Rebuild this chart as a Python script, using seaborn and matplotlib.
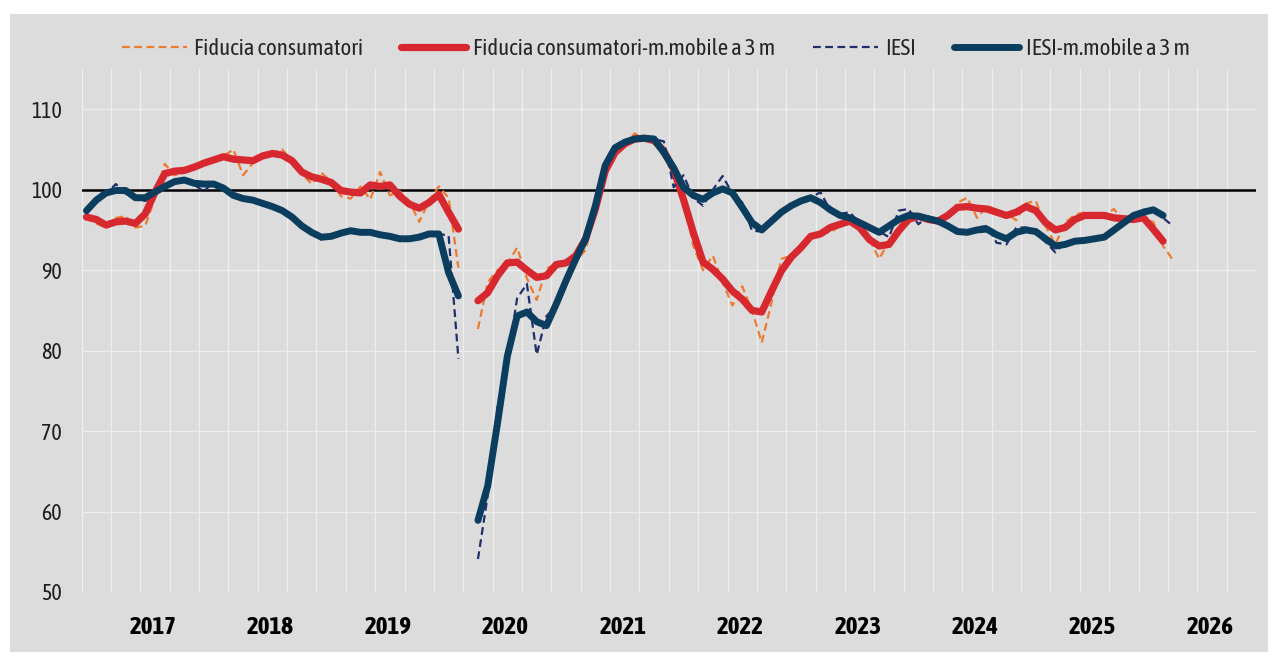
import numpy as np
import pandas as pd
import seaborn as sns
import matplotlib.pyplot as plt
from matplotlib.patches import Rectangle
from matplotlib import font_manager as fm

nan = np.nan

# monthly data, Jan 2017 .. Apr 2026 (April 2020: survey not carried out)
fiducia = [96.8, 95.8, 95.3, 96.5, 96.7, 95.3, 95.5, 99.0, 103.2, 101.8, 102.1, 102.5,
           103.5, 103.4, 104.2, 105.0, 101.8, 103.3, 104.2, 104.6, 105.0, 103.5, 102.0, 100.7,
           102.1, 101.0, 99.2, 98.9, 100.4, 98.8, 102.2, 99.3, 99.8, 98.5, 96.0, 98.6,
           100.4, 99.0, 90.3, nan, 82.7, 88.5, 90.0, 90.8, 92.8, 89.0, 86.3, 90.2,
           90.8, 90.8, 91.2, 92.5, 97.6, 102.5, 104.7, 105.5, 107.0, 106.3, 106.0, 104.5,
           103.0, 99.5, 93.0, 90.0, 91.8, 88.5, 85.6, 88.0, 85.0, 81.0, 86.0, 91.4,
           91.8, 93.0, 94.2, 94.6, 94.7, 95.5, 96.3, 95.5, 93.8, 91.4, 93.6, 95.5,
           96.5, 96.8, 96.1, 96.1, 96.5, 98.4, 99.0, 96.5, 98.0, 97.5, 97.0, 96.2,
           98.3, 98.6, 95.5, 93.2, 95.9, 96.9, 97.2, 96.6, 96.9, 97.6, 95.8, 96.3,
           96.4, 96.0, 93.0, 91.3]

fiducia_mm3 = [96.6, 96.3, 95.6, 96.0, 96.1, 95.8, 97.0, 99.7, 102.0, 102.3, 102.4, 102.8,
               103.3, 103.7, 104.1, 103.8, 103.7, 103.6, 104.2, 104.5, 104.3, 103.6, 102.2, 101.6,
               101.3, 100.9, 99.9, 99.7, 99.6, 100.6, 100.4, 100.6, 99.2, 98.2, 97.7, 98.4,
               99.4, 97.2, 95.1, nan, 86.2, 87.2, 89.3, 90.9, 91.0, 90.0, 89.1, 89.3,
               90.7, 90.9, 91.8, 93.9, 97.6, 102.3, 104.6, 105.7, 106.3, 106.4, 106.1, 104.8,
               102.5, 98.8, 94.7, 91.0, 90.1, 88.9, 87.4, 86.4, 85.0, 84.8, 87.4, 89.9,
               91.6, 92.8, 94.2, 94.5, 95.3, 95.7, 96.1, 95.3, 93.8, 93.0, 93.2, 94.9,
               96.3, 96.7, 96.3, 96.1, 96.8, 97.8, 97.9, 97.7, 97.6, 97.2, 96.8, 97.2,
               97.9, 97.4, 95.9, 95.0, 95.3, 96.3, 96.8, 96.8, 96.8, 96.5, 96.4, 96.3,
               96.5, 95.1, 93.6, nan]

iesi = [97.0, 98.5, 99.5, 100.7, 99.5, 99.0, 98.6, 99.5, 100.4, 101.0, 101.3, 100.6,
        99.8, 101.0, 100.3, 99.5, 98.9, 98.6, 98.3, 97.8, 97.3, 96.5, 95.4, 94.6,
        93.8, 94.5, 94.6, 95.0, 94.6, 94.8, 94.4, 94.0, 93.9, 93.8, 94.4, 94.7,
        94.5, 94.3, 79.0, nan, 54.1, 62.0, 73.0, 78.5, 86.5, 88.3, 79.5, 84.3,
        85.5, 88.5, 92.0, 94.5, 97.5, 103.0, 105.5, 106.0, 106.3, 106.6, 106.3, 106.0,
        100.3, 101.8, 99.0, 98.0, 100.0, 101.7, 99.5, 98.4, 94.9, 94.8, 96.0, 97.3,
        98.0, 98.8, 99.0, 99.7, 97.4, 97.0, 97.2, 95.8, 95.0, 94.8, 94.1, 97.4,
        97.6, 95.7, 96.7, 96.0, 95.6, 94.7, 94.7, 95.3, 95.5, 93.4, 93.2, 95.3,
        95.3, 94.5, 93.5, 92.2, 93.5, 93.8, 93.7, 94.0, 94.0, 95.0, 96.2, 96.8,
        97.5, 97.6, 96.5, 95.5]

iesi_mm3 = [97.4, 98.7, 99.6, 99.9, 99.9, 99.0, 99.0, 99.7, 100.4, 101.0, 101.2, 100.8,
            100.7, 100.7, 100.2, 99.3, 98.9, 98.7, 98.3, 97.9, 97.4, 96.6, 95.5, 94.7,
            94.1, 94.2, 94.6, 94.9, 94.7, 94.7, 94.4, 94.2, 93.9, 93.9, 94.1, 94.5,
            94.5, 89.7, 86.8, nan, 58.9, 63.2, 71.0, 79.3, 84.3, 84.8, 83.6, 83.1,
            85.8, 88.7, 91.4, 93.9, 98.0, 103.0, 105.2, 105.9, 106.3, 106.4, 106.3, 104.6,
            102.7, 100.3, 99.3, 98.8, 99.6, 100.1, 99.6, 97.8, 95.9, 95.0, 96.1, 97.2,
            98.0, 98.6, 99.0, 98.4, 97.5, 96.8, 96.5, 95.9, 95.3, 94.7, 95.5, 96.3,
            96.8, 96.7, 96.4, 96.1, 95.5, 94.8, 94.7, 95.0, 95.1, 94.4, 93.9, 94.7,
            95.0, 94.8, 93.9, 93.0, 93.2, 93.6, 93.7, 93.9, 94.1, 95.0, 95.9, 96.8,
            97.2, 97.5, 96.8, nan]

years = ['2017', '2018', '2019', '2020', '2021', '2022', '2023', '2024', '2025', '2026']

months = np.arange(len(fiducia))
df = pd.DataFrame({
    'mese': months,
    'tratto': np.where(months < 39, 0, 1),   # break the lines at April 2020
    'fid': fiducia,
    'fid_mm': fiducia_mm3,
    'iesi': iesi,
    'iesi_mm': iesi_mm3,
})

bg = '#DCDCDC'
grid_c = '#EEEEEE'

sns.set_theme(style='darkgrid', rc={'axes.facecolor': bg})

# the original uses a narrow face: prefer one that also has a bold cut
narrow = {}
for f in fm.fontManager.ttflist:
    if 'Narrow' in f.name or 'Condensed' in f.name:
        w = f.weight if isinstance(f.weight, int) else 400
        narrow[f.name] = max(narrow.get(f.name, 0), w)
with_bold = sorted(n for n, w in narrow.items() if w >= 600)
if with_bold:
    fam, k = with_bold[0], 1.0
elif narrow:
    fam, k = sorted(narrow)[0], 1.0
else:
    fam, k = 'Liberation Sans', 0.82
plt.rcParams['font.family'] = [fam, 'DejaVu Sans']

fs_leg = 16.4 * k
fs_y = 15.8 * k
fs_x = 18.0 * k
px_leg = fs_leg * 100 / 72

fig = plt.figure(figsize=(12.8, 6.57), dpi=100, facecolor='white')
fig.patches.append(Rectangle((10 / 1280, 5 / 657), 1258 / 1280, 638 / 657,
                             transform=fig.transFigure, facecolor=bg,
                             edgecolor='none', zorder=-10))
ax = fig.add_axes([81.6 / 1280, 65 / 657, (1256 - 81.6) / 1280, 523 / 657])

series = [
    ('fid', 'Fiducia consumatori', '#EE7A30', 1.6, (0, (3.5, 2.0))),
    ('fid_mm', 'Fiducia consumatori-m.mobile a 3 m', '#D7282F', 5.2, '-'),
    ('iesi', 'IESI', '#1F2F6B', 1.6, (0, (3.5, 2.0))),
    ('iesi_mm', 'IESI-m.mobile a 3 m', '#0A3D5E', 5.0, '-'),
]
for col, lab, c, lw, ls in series:
    sns.lineplot(data=df, x='mese', y=col, units='tratto', estimator=None,
                 color=c, lw=lw, ls=ls, label=lab, ax=ax,
                 solid_capstyle='round', dash_capstyle='butt')

if ax.get_legend() is not None:
    ax.get_legend().remove()

ax.axhline(100, color='black', lw=1.8, zorder=1.5)

ax.set_xlim(-0.5, 119.5)
ax.set_ylim(50, 115)
ax.set_yticks(range(50, 111, 10))
ax.set_xticks([6.8 + 12 * i for i in range(len(years))])
ax.set_xticklabels(years, fontweight='bold')
ax.set_xticks(np.arange(-0.5, 120, 3), minor=True)
ax.set_xlabel('')
ax.set_ylabel('')
ax.grid(False)
ax.grid(which='minor', axis='x', color=grid_c, lw=0.9)
ax.grid(which='major', axis='y', color=grid_c, lw=0.9)
ax.set_axisbelow(True)
for s in ax.spines.values():
    s.set_visible(False)
ax.tick_params(which='both', length=0)
ax.tick_params(axis='y', pad=14, labelsize=fs_y, labelcolor='#1E1E1E')
ax.tick_params(axis='x', pad=17, labelsize=fs_x, labelcolor='black')

handles, labels = ax.get_legend_handles_labels()
uniq = dict(zip(labels, handles))
fig.legend(list(uniq.values()), list(uniq.keys()), loc='center',
           bbox_to_anchor=(656 / 1280, 1 - 49 / 657), ncol=4, frameon=False,
           fontsize=fs_leg, handlelength=65 / px_leg, handletextpad=7 / px_leg,
           columnspacing=38 / px_leg, labelcolor='#262626')

fig.savefig('out.png', dpi=100)
